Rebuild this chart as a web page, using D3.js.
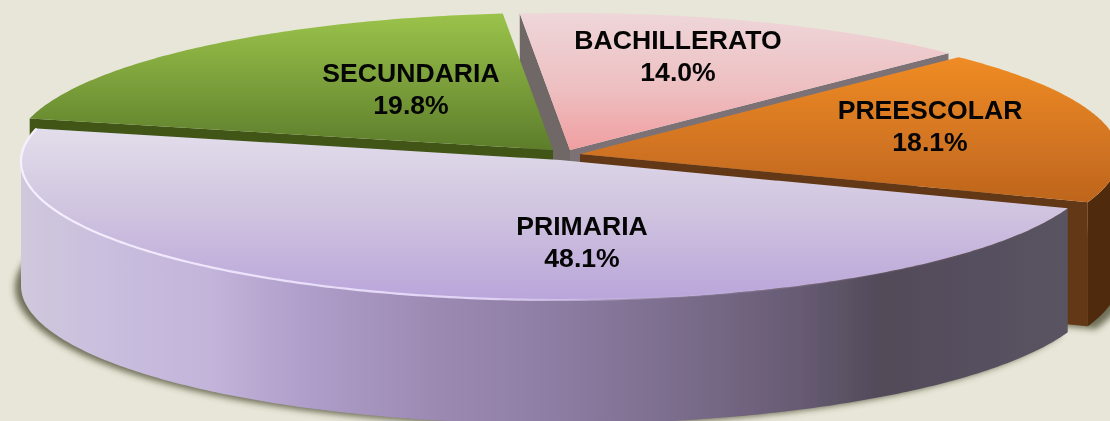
<!DOCTYPE html>
<html><head><meta charset="utf-8">
<script src="https://cdnjs.cloudflare.com/ajax/libs/d3/7.8.5/d3.min.js"></script>
<style>html,body{margin:0;padding:0;background:#e8e6d8;overflow:hidden}svg{display:block}
text{font-family:"Liberation Sans",Arial,sans-serif;font-weight:700;font-size:26.6px;fill:#050505;text-anchor:middle}</style>
</head><body><svg id="c" width="1110" height="421"></svg>
<script>
const categories = ["PREESCOLAR","PRIMARIA","SECUNDARIA","BACHILLERATO"];
const percents = [18.1,48.1,19.8,14.0];

const W=1110,H=421,RX=539,RYBack=137,RYFront=140,DEPTH=124,PERSP=0.01;
const START=45*Math.PI/180;
const layout={
 PREESCOLAR:{c:[580,154],label:[930,110],top:[[0,"#f08c25"],[1,"#bd641e"]],topY:[56,205],cut:"#633813",outer:"#4f2b0c"},
 PRIMARIA:{c:[560,160],label:[582,226],top:[[0,"#e3deeb"],[.5,"#cfc3df"],[1,"#baa5da"]],topY:[127,300]},
 SECUNDARIA:{c:[553,150],label:[411,73],top:[[0,"#9ac34a"],[1,"#5d7d2b"]],topY:[14,150],cut:"#3f5518"},
 BACHILLERATO:{c:[570,150],label:[678,40],top:[[0,"#eed6d9"],[.55,"#eebfc1"],[1,"#f09ea0"]],topY:[14,150],cut:"#7c7276",cutLeft:"#6f6766"}
};
const drawOrder=["BACHILLERATO","SECUNDARIA","PREESCOLAR","PRIMARIA"];
const primWallStops=[[21,"#d0c8dc"],[110,"#c9bede"],[210,"#c3b4da"],[300,"#b09fca"],[440,"#9b89b2"],[560,"#8d7ca2"],[700,"#776a88"],[800,"#675b73"],[880,"#524b59"],[1066,"#5a5362"]];

const svg=d3.select("#c");
const defs=svg.append("defs");
const pie=d3.pie().sort(null).value(d=>d).startAngle(START).endAngle(START+2*Math.PI);
const arcs=pie(percents);
const byName={};categories.forEach((n,i)=>byName[n]=arcs[i]);

function pt(name,a,dz=0){const [cx,cy]=layout[name].c;const ry=Math.cos(a)>0?RYBack:RYFront;
  return [cx+RX*Math.sin(a)*(1-PERSP*Math.cos(a)),cy-ry*Math.cos(a)+dz];}
const line=d3.line();
function arcPts(name,a0,a1,dz=0){const n=Math.max(2,Math.ceil(Math.abs(a1-a0)*80));
  return d3.range(n+1).map(i=>pt(name,a0+(a1-a0)*i/n,dz));}
function sector(name,dz=0){const s=byName[name];const c=layout[name].c;
  return line([[c[0],c[1]+dz],...arcPts(name,s.startAngle,s.endAngle,dz)])+"Z";}
function outerWall(name,a0,a1){return line([...arcPts(name,a0,a1),...arcPts(name,a1,a0,DEPTH)])+"Z";}
function cutWall(name,a){const c=layout[name].c,p=pt(name,a);
  return line([c,p,[p[0],p[1]+DEPTH],[c[0],c[1]+DEPTH]])+"Z";}

svg.append("rect").attr("width",W).attr("height",H).attr("fill","#e8e6d8");

// gradients
drawOrder.forEach(n=>{const l=layout[n];
  const g=defs.append("linearGradient").attr("id","top-"+n).attr("gradientUnits","userSpaceOnUse")
    .attr("x1",0).attr("x2",0).attr("y1",l.topY[0]).attr("y2",l.topY[1]);
  l.top.forEach(s=>g.append("stop").attr("offset",s[0]).attr("stop-color",s[1]));
});
const wg=defs.append("linearGradient").attr("id","primWall").attr("gradientUnits","userSpaceOnUse")
  .attr("x1",21).attr("x2",1066).attr("y1",0).attr("y2",0);
primWallStops.forEach(s=>wg.append("stop").attr("offset",(s[0]-21)/1045).attr("stop-color",s[1]));
const rim=defs.append("linearGradient").attr("id","rim").attr("gradientUnits","userSpaceOnUse")
  .attr("x1",21).attr("x2",1066).attr("y1",0).attr("y2",0);
[[0,"#f6f1ff",1],[.45,"#e6d9fb",.9],[.62,"#cdbfe6",.2],[1,"#cdbfe6",0]].forEach(s=>rim.append("stop").attr("offset",s[0]).attr("stop-color",s[1]).attr("stop-opacity",s[2]));
const bl=defs.append("filter").attr("id","blur").attr("x","-5%").attr("y","-10%").attr("width","110%").attr("height","120%");
bl.append("feGaussianBlur").attr("stdDeviation",3);
const soft=defs.append("filter").attr("id","soft");
soft.append("feGaussianBlur").attr("stdDeviation",.6);

// ground shadow
const shadow=svg.append("g").attr("filter","url(#blur)").attr("fill","#45452c").attr("fill-opacity",.75);
["PRIMARIA","PREESCOLAR"].forEach(n=>{
  shadow.append("path").attr("d",sector(n,DEPTH)).attr("transform",n==="PRIMARIA"?"translate(-6,2)":"translate(8,3)");
});

const g=svg.append("g").attr("filter","url(#soft)");
// Bachillerato
{const n="BACHILLERATO",s=byName[n],l=layout[n];
 g.append("path").attr("d",cutWall(n,s.startAngle)).attr("fill",l.cutLeft);
 g.append("path").attr("d",cutWall(n,s.endAngle)).attr("fill",l.cut);
 g.append("path").attr("d",sector(n)).attr("fill","url(#top-"+n+")");}
// Secundaria
{const n="SECUNDARIA",s=byName[n],l=layout[n];
 g.append("path").attr("d",cutWall(n,s.startAngle)).attr("fill",l.cut);
 g.append("path").attr("d",sector(n)).attr("fill","url(#top-"+n+")");}
// Preescolar
{const n="PREESCOLAR",s=byName[n],l=layout[n];
 g.append("path").attr("d",cutWall(n,s.endAngle)).attr("fill",l.cut);
 g.append("path").attr("d",outerWall(n,Math.PI/2,s.endAngle)).attr("fill",l.outer);
 g.append("path").attr("d",sector(n)).attr("fill","url(#top-"+n+")");}
// Primaria
{const n="PRIMARIA",s=byName[n];
 g.append("path").attr("d",outerWall(n,s.startAngle,Math.min(s.endAngle,1.5*Math.PI))).attr("fill","url(#primWall)");
 g.append("path").attr("d",sector(n)).attr("fill","url(#top-"+n+")");
 g.append("path").attr("d",line(arcPts(n,s.startAngle,s.endAngle))).attr("fill","none").attr("stroke","url(#rim)").attr("stroke-width",2.2);}

// labels
const labels=svg.append("g");
categories.forEach((n,i)=>{const [x,y]=layout[n].label;
  const t=labels.append("text").attr("x",x).attr("y",y);
  t.append("tspan").attr("x",x).attr("dy","0.35em").text(n);
  t.append("tspan").attr("x",x).attr("dy",32).text(d3.format(".1f")(percents[i])+"%");
});
</script></body></html>
